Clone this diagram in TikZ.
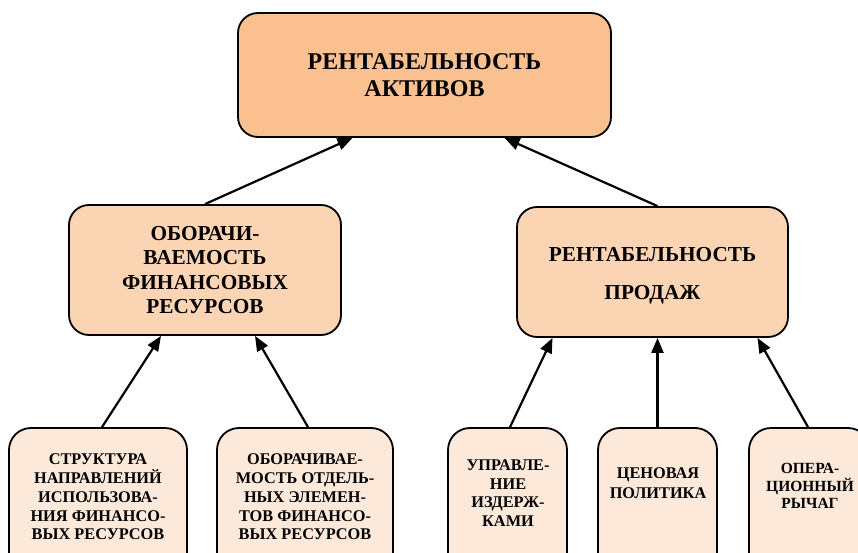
\documentclass[tikz,border=0pt]{standalone}
\usepackage{fontspec}
\setmainfont{Liberation Serif}
\usetikzlibrary{arrows.meta}

\definecolor{topfill}{HTML}{FAC090}
\definecolor{midfill}{HTML}{FBD4B4}
\definecolor{lowfill}{HTML}{FDE9D9}

\begin{document}
\begin{tikzpicture}[x=1pt,y=-1pt,
  box/.style={draw,line width=1.8pt,rounded corners=20pt,align=center,inner sep=0pt},
  topbox/.style={box,fill=topfill,minimum width=373,minimum height=124,
    font=\fontsize{24}{27}\selectfont\bfseries},
  midbox/.style={box,fill=midfill,minimum width=272,minimum height=130,
    font=\fontsize{21.3}{24.5}\selectfont\bfseries},
  lowbox/.style={box,fill=lowfill,minimum height=150,rounded corners=22pt},
  lowtext/.style={align=center,inner sep=0pt,font=\fontsize{16.3}{18.7}\selectfont\bfseries},
  arr/.style={line width=2.2pt,-{Triangle[length=15pt,width=12pt]}}]
  \useasboundingbox (0,0) rectangle (858,553);

  % top level
  \node[topbox] (ra) at (424.5,75) {РЕНТАБЕЛЬНОСТЬ\\АКТИВОВ};

  % middle level
  \node[midbox] (obr) at (205,270) {ОБОРАЧИ-\\ВАЕМОСТЬ\\ФИНАНСОВЫХ\\РЕСУРСОВ};
  \node[midbox,minimum width=271] (rp) at (652.5,272) {};
  \node[align=center,inner sep=0pt,font=\fontsize{21.3}{38}\selectfont\bfseries]
    (rp-t) at (652.5,276) {РЕНТАБЕЛЬНОСТЬ\\ПРОДАЖ};

  % bottom level
  \node[lowbox,minimum width=178] (str) at (98,503) {};
  \node[lowbox,minimum width=176] (obe) at (305,503) {};
  \node[lowbox,minimum width=119] (upr) at (507.5,503) {};
  \node[lowbox,minimum width=119] (cen) at (657.5,503) {};
  \node[lowbox,minimum width=121] (opr) at (809.5,503) {};

  \node[lowtext] (str-t) at (98,497) {СТРУКТУРА\\НАПРАВЛЕНИЙ\\ИСПОЛЬЗОВА-\\НИЯ ФИНАНСО-\\ВЫХ РЕСУРСОВ};
  \node[lowtext] (obe-t) at (305,497) {ОБОРАЧИВАЕ-\\МОСТЬ ОТДЕЛЬ-\\НЫХ ЭЛЕМЕН-\\ТОВ ФИНАНСО-\\ВЫХ РЕСУРСОВ};
  \node[lowtext] (upr-t) at (508,493) {УПРАВЛЕ-\\НИЕ\\ИЗДЕРЖ-\\КАМИ};
  \node[lowtext,font=\fontsize{16.3}{20}\selectfont\bfseries] (cen-t) at (658,483) {ЦЕНОВАЯ\\ПОЛИТИКА};
  \node[lowtext,font=\fontsize{15.5}{17.5}\selectfont\bfseries] (opr-t) at (810,486) {ОПЕРА-\\ЦИОННЫЙ\\РЫЧАГ};

  % arrows
  \draw[arr] (obr.north) -- ([xshift=-72]ra.south);
  \draw[arr] ([xshift=5]rp.north) -- ([xshift=80]ra.south);
  \draw[arr] ([xshift=4]str.north) -- ([xshift=-44]obr.south);
  \draw[arr] ([xshift=3]obe.north) -- ([xshift=50]obr.south);
  \draw[arr] ([xshift=2.5]upr.north) -- ([xshift=-100]rp.south);
  \draw[arr] (cen.north) -- ([xshift=5]rp.south);
  \draw[arr] ([xshift=-1.5]opr.north) -- ([xshift=105]rp.south);
\end{tikzpicture}
\end{document}
